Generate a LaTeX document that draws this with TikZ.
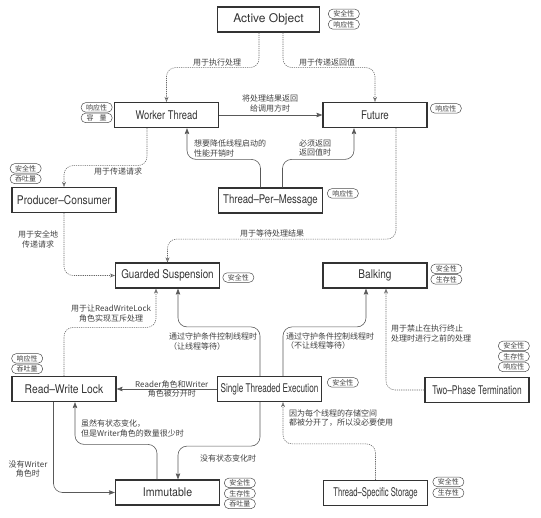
\documentclass[tikz,border=0pt]{standalone}
\usepackage{fontspec}
\setmainfont{TeX Gyre Heros}
\newfontfamily\cjk{Noto Sans CJK SC}
\usepackage{graphicx}
\usetikzlibrary{arrows.meta, positioning}

\newcommand{\squeeze}[2]{\scalebox{#1}[1]{#2}}

\begin{document}
\begin{tikzpicture}[
    x=1pt, y=-1pt,
    pbox/.style={rectangle, draw=black!80, line width=1.2pt, minimum width=104pt, minimum height=25pt, inner sep=0pt, font=\fontsize{12}{14}\selectfont, text=black!80},
    badge/.style={rectangle, draw=black!70, line width=0.5pt, rounded corners=4.5pt, minimum width=31pt, minimum height=9.5pt, inner sep=0pt, font=\cjk\fontsize{7}{8}\selectfont, text=black!75},
    lbl/.style={font=\cjk\fontsize{8}{9.5}\selectfont, text=black!75, inner sep=0pt, align=center},
    arrow/.style={-{Stealth[length=6pt, width=4.5pt, inset=1pt]}, draw=black!65, line width=0.6pt, rounded corners=9pt},
    dasharrow/.style={-{Stealth[open, length=5pt, width=4pt, inset=1.5pt]}, draw=black!60, line width=0.55pt, dash pattern=on 1.2pt off 1pt, rounded corners=9pt},
]
\useasboundingbox (0,0) rectangle (541,517);

% Patterns
\node[pbox, minimum width=102pt] (ao) at (268.5,19.5) {Active Object};
\node[pbox] (wt) at (166.5,115) {\squeeze{0.78}{Worker Thread}};
\node[pbox] (fu) at (375,115) {\squeeze{0.81}{Future}};
\node[pbox] (pc) at (64,200) {\squeeze{0.85}{Producer--Consumer}};
\node[pbox] (tpm) at (270.5,200.5) {\squeeze{0.8}{Thread--Per--Message}};
\node[pbox] (gs) at (167.5,275.5) {\squeeze{0.82}{Guarded Suspension}};
\node[pbox] (bk) at (375,275.5) {\squeeze{0.84}{Balking}};
\node[pbox] (rwl) at (64,389) {\squeeze{0.86}{Read--Write Lock}};
\node[pbox] (ste) at (269.5,389) {\squeeze{0.68}{Single Threaded Execution}};
\node[pbox] (tpt) at (477,390) {\squeeze{0.7}{Two--Phase Termination}};
\node[pbox] (im) at (167.5,492.5) {\squeeze{0.88}{Immutable}};
\node[pbox] (tss) at (375.5,493) {\squeeze{0.64}{Thread--Specific Storage}};

% Badges
\node[badge, anchor=north west] (ao1) at ([xshift=8pt, yshift=-2.5pt]ao.north east) {安全性};
\node[badge, below=0.5pt of ao1] (ao2) {响应性};
\node[badge, anchor=north east] (wt1) at ([xshift=-1.5pt, yshift=-0.5pt]wt.north west) {响应性};
\node[badge, below=0.5pt of wt1] (wt2) {容\hspace{6pt}量};
\node[badge, anchor=north west] (fu1) at ([xshift=2.5pt, yshift=-1.5pt]fu.north east) {响应性};
\node[badge, anchor=south west] (pc2) at ([xshift=-1.5pt, yshift=3pt]pc.north west) {吞吐量};
\node[badge, above=0.5pt of pc2] (pc1) {安全性};
\node[badge, anchor=north west] (tpm1) at ([xshift=4pt, yshift=-1pt]tpm.north east) {响应性};
\node[badge, anchor=west] (gs1) at ([xshift=2.5pt, yshift=-2pt]gs.east) {安全性};
\node[badge, anchor=north west] (bk1) at ([xshift=3pt, yshift=-1.5pt]bk.north east) {安全性};
\node[badge, below=0.5pt of bk1] (bk2) {生存性};
\node[badge, anchor=south west] (rwl2) at ([yshift=2pt]rwl.north west) {吞吐量};
\node[badge, above=0.5pt of rwl2] (rwl1) {响应性};
\node[badge, anchor=north west] (ste1) at ([xshift=5pt, yshift=-1.5pt]ste.north east) {安全性};
\node[badge, anchor=south east] (tpt3) at ([yshift=5pt]tpt.north east) {响应性};
\node[badge, above=0.5pt of tpt3] (tpt2) {生存性};
\node[badge, above=0.5pt of tpt2] (tpt1) {安全性};
\node[badge, anchor=north west] (im1) at ([xshift=4pt, yshift=1.5pt]im.north east) {安全性};
\node[badge, below=0.5pt of im1] (im2) {生存性};
\node[badge, below=0.5pt of im2] (im3) {吞吐量};
\node[badge, anchor=north west] (tss1) at ([xshift=4.5pt, yshift=3pt]tss.north east) {安全性};
\node[badge, below=1pt of tss1] (tss2) {生存性};

% Connectors
\draw[dasharrow] ([xshift=-9.5pt]ao.south) -- ++(0,35) -| (wt.north);
\draw[dasharrow] ([xshift=14.5pt]ao.south) -- ++(0,35) -| (fu.north);
\draw[arrow] (wt.east) -- (fu.west);
\draw[arrow] ([xshift=-10pt]tpm.north) -- ++(0,-28) -| ([xshift=20.5pt]wt.south);
\draw[arrow] ([xshift=12pt]tpm.north) -- ++(0,-28) -| ([xshift=-21pt]fu.south);
\draw[dasharrow] ([xshift=21pt]fu.south) -- ++(0,111) -| (gs.north);
\draw[dasharrow] ([xshift=-19.5pt]wt.south) -- ++(0,37.5) -| (pc.north);
\draw[dasharrow] (pc.south) |- (gs.west);
\draw[dasharrow] (rwl.north) -- ++(0,-48.5) -| ([xshift=-11.5pt]gs.south);
\draw[arrow] ([xshift=-9.5pt]ste.north) -- ++(0,-49) -| ([xshift=10.5pt]gs.south);
\draw[arrow] ([xshift=13.5pt]ste.north) -- ++(0,-49) -| ([xshift=-9pt]bk.south);
\draw[dasharrow] (tpt.west) -| ([xshift=11pt]bk.south);
\draw[arrow] (ste.west) -- node[lbl, above=1pt, pos=0.45] (l-split1) {Reader角色和Writer}
    node[lbl, below=0pt, pos=0.45] (l-split2) {角色被分开时} (rwl.east);
\draw[arrow] ([xshift=-10.5pt]im.north) -- ++(0,-35) -| ([xshift=11pt]rwl.south);
\draw[arrow] ([xshift=-10.5pt]rwl.south) |- (im.west);
\draw[arrow] ([xshift=-9.5pt]ste.south) -- ++(0,44) -| ([xshift=10.5pt]im.north);
\draw[dasharrow] (tss.north) -- ++(0,-36) -| ([xshift=13.5pt]ste.south);

% Labels
\node[lbl] (l-exec) at (217,62) {用于执行处理};
\node[lbl] (l-ret) at (327,62) {用于传递返回值};
\node[lbl] (l-result) at (270,103.5) {将处理结果返回\\给调用方时};
\node[lbl, anchor=west, align=left] (l-cost) at (194,148.5) {想要降低线程启动的\\性能开销时};
\node[lbl, anchor=west, align=left] (l-must) at (299,148) {必须返回\\返回值时};
\node[lbl] (l-wait) at (272,233) {用于等待处理结果};
\node[lbl] (l-req) at (118,171) {用于传递请求};
\node[lbl] (l-safe) at (38,239.5) {用于安全地\\传递请求};
\node[lbl] (l-rwl) at (111,313.5) {用于让ReadWriteLock\\角色实现互斥处理};
\node[lbl, anchor=west, align=left] (l-gs) at (169,341.5) {通过守护条件控制线程时\\（让线程等待）};
\node[lbl, anchor=west, align=left] (l-bk) at (286,341) {通过守护条件控制线程时\\（不让线程等待）};
\node[lbl, anchor=west, align=left] (l-tpt) at (391,333.5) {用于禁止在执行终止\\处理时进行之前的处理};
\node[lbl, anchor=west, align=left] (l-few) at (81,428.5) {虽然有状态变化，\\但是Writer角色的数量很少时};
\node[lbl] (l-nowriter) at (28,469) {没有Writer\\角色时};
\node[lbl] (l-nochange) at (228,458) {没有状态变化时};
\node[lbl, anchor=west, align=left] (l-tss) at (289,418) {因为每个线程的存储空间\\都被分开了，所以没必要使用};

\end{tikzpicture}
\end{document}
